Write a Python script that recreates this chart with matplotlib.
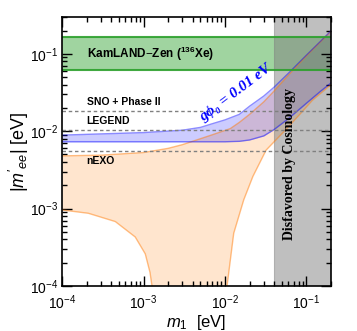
import matplotlib
matplotlib.use('Agg')
import matplotlib.pyplot as plt

plt.rcParams['font.family'] = ['Liberation Sans', 'DejaVu Sans']
plt.rcParams['mathtext.fontset'] = 'custom'
plt.rcParams['mathtext.rm'] = 'Liberation Sans'
plt.rcParams['mathtext.it'] = 'Liberation Sans:italic'
plt.rcParams['mathtext.bf'] = 'Liberation Sans:bold'

# blue band (g phi_0 = 0.01 eV)
m1_blue = [1e-4, 1e-3, 3e-3, 5e-3, 7e-3, 0.01, 0.015, 0.02, 0.03, 0.04, 0.06, 0.1, 0.15, 0.2]
blue_up = [0.0089, 0.0096, 0.0103, 0.0112, 0.0125, 0.0140, 0.0165, 0.021, 0.0285, 0.037, 0.056, 0.096, 0.146, 0.198]
blue_lo = [0.0073, 0.0073, 0.0073, 0.0073, 0.0073, 0.0073, 0.0074, 0.0077, 0.0087, 0.0105, 0.0145, 0.023, 0.033, 0.042]

# orange band (standard), upper edge
m1_or_up = [1e-4, 3e-4, 1e-3, 2e-3, 3e-3, 5e-3, 7e-3, 0.0116, 0.015, 0.02, 0.03, 0.04, 0.06, 0.1, 0.2]
or_up = [0.0048, 0.0049, 0.0053, 0.006, 0.0067, 0.008, 0.009, 0.0108, 0.013, 0.0165, 0.024, 0.033, 0.053, 0.094, 0.195]
# lower edge, left branch (drops to zero near 1.4e-3)
m1_or_lo1 = [1e-4, 2.1e-4, 4.5e-4, 7.9e-4, 1.05e-3, 1.2e-3, 1.27e-3, 1.42e-3]
or_lo1 = [0.00096, 0.00087, 0.00068, 0.00043, 0.00026, 0.00015, 0.0001, 1e-5]
# lower edge, right branch (comes back above ~1e-2)
m1_or_lo2 = [0.0104, 0.0106, 0.0128, 0.017, 0.022, 0.032, 0.055, 0.085, 0.118, 0.2]
or_lo2 = [1e-5, 1e-4, 0.00048, 0.0013, 0.0026, 0.0057, 0.0103, 0.017, 0.025, 0.040]

kamland = [0.061, 0.165]
sens_names = ['SNO + Phase II', 'LEGEND', 'nEXO']
sens_vals = [0.0185, 0.0105, 0.0055]
cosmo_min = 0.04

fig = plt.figure(figsize=(3.57, 3.31), dpi=100)
ax = fig.add_axes([0.174, 0.136, 0.753, 0.813])

# orange region as one polygon
poly_x = m1_or_up + m1_or_lo2[::-1] + m1_or_lo1[::-1]
poly_y = or_up + or_lo2[::-1] + or_lo1[::-1]
ax.fill(poly_x, poly_y, color='C1', alpha=0.2, lw=0)
ax.plot(m1_or_up, or_up, color='C1', alpha=0.5, lw=1)
ax.plot(m1_or_lo1, or_lo1, color='C1', alpha=0.5, lw=1)
ax.plot(m1_or_lo2, or_lo2, color='C1', alpha=0.5, lw=1)

ax.fill_between(m1_blue, blue_lo, blue_up, color='blue', alpha=0.2, lw=0)
ax.plot(m1_blue, blue_up, color='blue', alpha=0.45, lw=1)
ax.plot(m1_blue, blue_lo, color='blue', alpha=0.45, lw=1)

ax.axhspan(kamland[0], kamland[1], color='tab:green', alpha=0.45, lw=0)
for v in kamland:
    ax.axhline(v, color='tab:green', lw=1.5, alpha=0.9)

for v in sens_vals:
    ax.axhline(v, color='gray', ls=(0, (2.5, 2)), lw=1)
ax.text(2e-4, sens_vals[0] * 1.12, sens_names[0], fontsize=7.5, fontweight='bold', va='bottom')
ax.text(2e-4, sens_vals[1] * 1.12, sens_names[1], fontsize=7.5, fontweight='bold', va='bottom')
ax.text(2e-4, sens_vals[2] * 0.87, sens_names[2], fontsize=7.5, fontweight='bold', va='top')

ax.axvspan(cosmo_min, 0.2, color='gray', alpha=0.5, lw=0.8)
ax.text(0.845, 0.455, 'Disfavored by Cosmology', transform=ax.transAxes, rotation=90,
        fontsize=10, fontweight='bold', family='Liberation Serif', ha='center', va='center')

ax.text(2e-4, 0.1, r'KamLAND$-$Zen ($^{\mathbf{136}}$Xe)', fontsize=8.5, fontweight='bold', va='center')
ax.text(0.0135, 0.031, 'g\u03d5\u2080 = 0.01 eV', color='blue', rotation=37, fontsize=11,
        fontweight='bold', style='italic', family='Liberation Serif', ha='center', va='center')

ax.set_xscale('log')
ax.set_yscale('log')
ax.set_xlim(1e-4, 0.2)
ax.set_ylim(1e-4, 0.3)
ax.tick_params(which='both', direction='in', top=True, right=True, labelsize=10)
ax.tick_params(which='major', length=7, width=1, pad=3)
ax.tick_params(which='minor', length=3.5, width=1)
ax.tick_params(axis='x', which='major', pad=5)
for s in ax.spines.values():
    s.set_linewidth(1.2)
ax.set_xlabel(r'$m_1$  [eV]', fontsize=12, labelpad=1)
ax.set_ylabel(r"$|m'_{ee}|$ [eV]", fontsize=13, labelpad=-1)

fig.savefig('out.png', dpi=100)
